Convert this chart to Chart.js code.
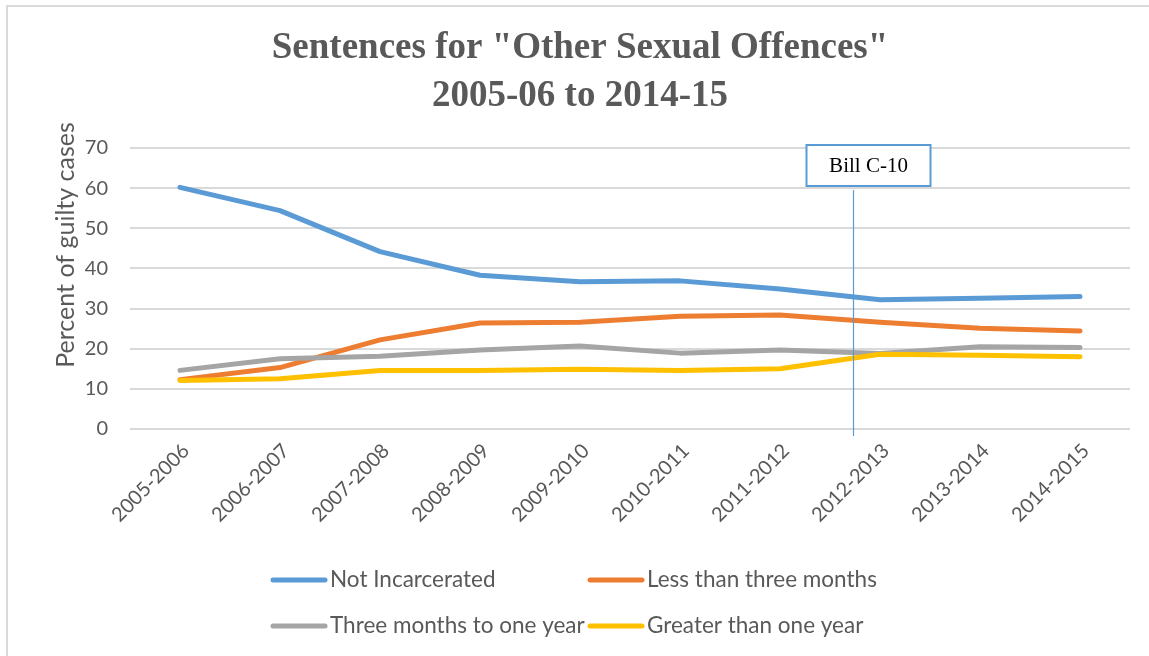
<!DOCTYPE html>
<html>
<head>
<meta charset="utf-8">
<title>Sentences for "Other Sexual Offences"</title>
<script src="https://cdn.jsdelivr.net/npm/chart.js@4"></script>
<style>
  html, body { margin: 0; padding: 0; background: #ffffff; }
  #wrap { position: relative; width: 1149px; height: 656px; }
  canvas { display: block; }
</style>
</head>
<body>
<div id="wrap"><canvas id="chart" width="1149" height="656"></canvas></div>
<script>
// Fiscal years
const categories = ['2005-2006', '2006-2007', '2007-2008', '2008-2009', '2009-2010',
                    '2010-2011', '2011-2012', '2012-2013', '2013-2014', '2014-2015'];

// Percent of guilty cases by sentence type
const notIncarcerated   = [60.2, 54.4, 44.2, 38.3, 36.7, 36.9, 34.9, 32.2, 32.6, 33.0];
const lessThanThreeMo   = [12.3, 15.3, 22.2, 26.4, 26.6, 28.1, 28.4, 26.6, 25.1, 24.4];
const threeMoToOneYear  = [14.6, 17.5, 18.1, 19.7, 20.7, 18.9, 19.7, 18.8, 20.5, 20.3];
const greaterThanOneYr  = [12.1, 12.5, 14.6, 14.6, 14.9, 14.6, 15.0, 18.6, 18.4, 18.0];

const seriesNames = ['Not Incarcerated', 'Less than three months',
                     'Three months to one year', 'Greater than one year'];

// Titles and ticks
const chartTitle = ['Sentences for "Other Sexual Offences"', '2005-06 to 2014-15'];
const yTicks = [0, 10, 20, 30, 40, 50, 60, 70];
const yAxisTitle = 'Percent of guilty cases';

// Bill C-10 marker, as a fractional category index (between 2011-2012 and 2012-2013)
const billLabel = 'Bill C-10';
const billIndex = 6.73;

const colors = ['#5b9bd5', '#ed7d31', '#a5a5a5', '#ffc000'];
const textGray = '#595959';
const sans = 'Lato, "Open Sans", "Noto Sans", sans-serif';
const serif = '"Liberation Serif", "DejaVu Serif", serif';

const seriesValues = [notIncarcerated, lessThanThreeMo, threeMoToOneYear, greaterThanOneYr];

const datasets = seriesValues.map((vals, i) => ({
  label: seriesNames[i],
  data: vals,
  borderColor: colors[i],
  backgroundColor: colors[i],
  borderWidth: 5,
  borderCapStyle: 'round',
  borderJoinStyle: 'round',
  pointRadius: 0,
  pointHoverRadius: 0,
  tension: 0,
  fill: false,
  order: seriesValues.length - 1 - i   // later series drawn on top
}));

// Outer frame, titles, Bill C-10 marker and the two-row legend
const decorations = {
  id: 'decorations',
  beforeDraw(chart) {
    const ctx = chart.ctx;
    ctx.save();
    ctx.fillStyle = '#ffffff';
    ctx.fillRect(0, 0, chart.width, chart.height);
    ctx.strokeStyle = '#d9d9d9';
    ctx.lineWidth = 2;
    ctx.beginPath();
    ctx.moveTo(7, chart.height);
    ctx.lineTo(7, 6);
    ctx.lineTo(chart.width, 6);
    ctx.stroke();
    ctx.restore();
  },
  afterDraw(chart) {
    const ctx = chart.ctx;
    const x = chart.scales.x;
    const area = chart.chartArea;

    // chart title, two lines
    ctx.save();
    ctx.font = 'bold 37px ' + serif;
    ctx.fillStyle = textGray;
    ctx.textAlign = 'center';
    ctx.textBaseline = 'middle';
    chartTitle.forEach((line, i) => ctx.fillText(line, 580, 48 + i * 48));
    ctx.restore();

    // y-axis title, rotated
    ctx.save();
    ctx.translate(66, area.top + 97);
    ctx.rotate(-Math.PI / 2);
    ctx.font = '25px ' + sans;
    ctx.fillStyle = textGray;
    ctx.textAlign = 'center';
    ctx.textBaseline = 'middle';
    ctx.fillText(yAxisTitle, 0, 0);
    ctx.restore();

    // Bill C-10 vertical marker
    const i0 = Math.floor(billIndex);
    const p0 = x.getPixelForValue(i0);
    const p1 = x.getPixelForValue(i0 + 1);
    const bx = Math.round(p0 + (p1 - p0) * (billIndex - i0)) + 0.5;
    ctx.save();
    ctx.strokeStyle = '#5b9bd5';
    ctx.lineWidth = 1.2;
    ctx.beginPath();
    ctx.moveTo(bx, area.top + 42);
    ctx.lineTo(bx, area.bottom + 7);
    ctx.stroke();

    // label box
    const boxW = 124, boxH = 41;
    const boxL = bx - 47;
    const boxT = area.top - 3;
    ctx.fillStyle = '#ffffff';
    ctx.fillRect(boxL, boxT, boxW, boxH);
    ctx.strokeStyle = '#5b9bd5';
    ctx.lineWidth = 2;
    ctx.strokeRect(boxL, boxT, boxW, boxH);
    ctx.font = '21px ' + serif;
    ctx.fillStyle = '#000000';
    ctx.textAlign = 'center';
    ctx.textBaseline = 'middle';
    ctx.fillText(billLabel, boxL + boxW / 2, boxT + boxH / 2 + 1);
    ctx.restore();

    // Legend: two rows, two columns
    const cols = [271, 588];
    const rows = [580, 626];
    ctx.save();
    ctx.font = '22.5px ' + sans;
    ctx.textBaseline = 'middle';
    ctx.textAlign = 'left';
    chart.data.datasets.forEach((ds, i) => {
      const lx = cols[i % 2];
      const ly = rows[Math.floor(i / 2)];
      ctx.strokeStyle = ds.borderColor;
      ctx.lineWidth = 5;
      ctx.lineCap = 'round';
      ctx.beginPath();
      ctx.moveTo(lx + 2, ly);
      ctx.lineTo(lx + 54, ly);
      ctx.stroke();
      ctx.fillStyle = textGray;
      ctx.fillText(ds.label, lx + 59, ly);
    });
    ctx.restore();
  }
};

new Chart(document.getElementById('chart'), {
  type: 'line',
  data: { labels: categories, datasets },
  plugins: [decorations],
  options: {
    responsive: false,
    animation: false,
    events: [],
    layout: { padding: { left: 0, right: 19, top: 148, bottom: 117 } },
    plugins: {
      legend: { display: false },
      tooltip: { enabled: false },
      title: { display: false }
    },
    scales: {
      x: {
        type: 'category',
        offset: true,
        grid: { display: false },
        border: { display: false },
        ticks: {
          color: textGray,
          font: { family: sans, size: 20 },
          maxRotation: 45,
          minRotation: 45,
          autoSkip: false,
          labelOffset: 6,
          padding: 2
        },
        afterFit(scale) { scale.height = 110; }
      },
      y: {
        min: 0,
        max: 70,
        afterBuildTicks(scale) { scale.ticks = yTicks.map(v => ({ value: v })); },
        grid: { color: '#d9d9d9', lineWidth: 2, drawTicks: false },
        border: { display: false },
        ticks: {
          color: textGray,
          font: { family: sans, size: 20 },
          padding: 22
        },
        afterFit(scale) { scale.width = 130; }
      }
    }
  }
});
</script>
</body>
</html>
